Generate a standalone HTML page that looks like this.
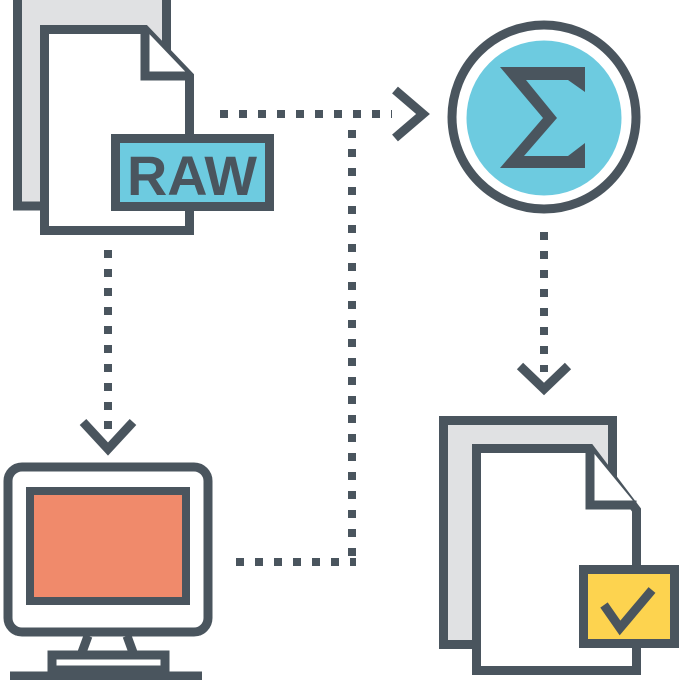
<!DOCTYPE html>
<html><head><meta charset="utf-8"><style>html,body{margin:0;padding:0;background:#fff}svg{display:block}</style></head>
<body>
<svg width="680" height="680" viewBox="0 0 680 680" xmlns="http://www.w3.org/2000/svg">
<g stroke="#4a555e" stroke-width="9" fill="none">
  <rect x="17.5" y="-5" width="149" height="211" fill="#e0e1e3"/>
  <path d="M44.5 29.5 H145 L189.5 76 V230.5 H44.5 Z" fill="#fff" stroke-linejoin="miter"/>
  <path d="M145 29.5 V76 H189.5" fill="#fff"/>
  <rect x="115.5" y="138.5" width="154" height="68" fill="#6dcbe0"/>
</g>
<text x="192" y="195" text-anchor="middle" font-family="Liberation Sans, sans-serif" font-weight="bold" font-size="56" fill="#4a555e" textLength="130" lengthAdjust="spacingAndGlyphs">RAW</text>
<g stroke="#4a555e" stroke-width="9" fill="none">
  <circle cx="544" cy="117" r="92" fill="#fff"/>
  <circle cx="544" cy="118" r="77.5" fill="#6dcbe0" stroke="none"/>
  <path d="M220 114 H392" stroke-width="8" stroke-dasharray="8 11"/>
  <path d="M395 90 L423 114 L395 138" stroke-linejoin="miter"/>
  <path d="M352 130 V566" stroke-width="8" stroke-dasharray="8 11"/>
  <path d="M236 562 H356" stroke-width="8" stroke-dasharray="8 11"/>
  <path d="M544 232 V372" stroke-width="8" stroke-dasharray="8 11"/>
  <path d="M520 366 L544 389 L568 366"/>
  <path d="M108 250 V432" stroke-width="8" stroke-dasharray="8 11"/>
  <path d="M83 422 L108 449 L133 422"/>
  <rect x="8" y="467" width="200" height="165" rx="14" fill="#fff"/>
  <rect x="30" y="491" width="156" height="110" fill="#f08a6b" stroke-width="8"/>
  <path d="M88 636 L81 655 M127 636 L134 655"/>
  <rect x="52" y="655" width="113" height="15" fill="#fff"/>
  <path d="M10 676 H202"/>
  <rect x="443.5" y="420.5" width="169" height="224" fill="#e0e1e3"/>
  <path d="M476.5 448.5 H590 L636.5 510 V670.5 H476.5 Z" fill="#fff"/>
  <path d="M590 448.5 V505 H636.5" fill="#fff"/>
  <rect x="583.5" y="569.5" width="91" height="74" fill="#fdd34f"/>
  <path d="M604 605 L620 628 L652 590"/>
</g>
<path d="M500 67 H585 V92 L568 80 H526 L557 118 L524 156 H568 L585 143 V168 H500 L543 118 Z" fill="#4a555e"/>
</svg>
</body></html>
